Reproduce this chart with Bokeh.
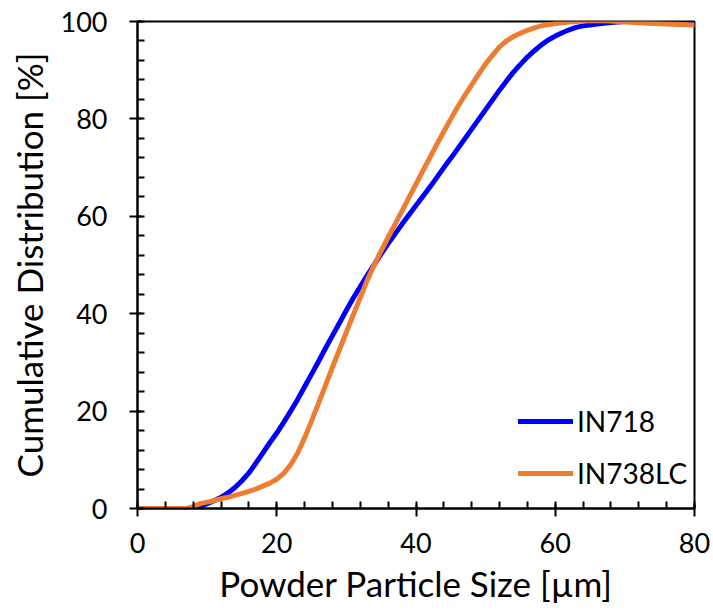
from bokeh.plotting import figure
from bokeh.models import Range1d, Legend, LegendItem, SingleIntervalTicker
from bokeh.embed import file_html
from bokeh.resources import INLINE

size_in718 = [0, 8, 9, 10, 11, 12, 13, 14, 15, 16, 17, 18, 19, 20, 21, 22, 23, 24, 25,
              26, 27, 28, 29, 30, 31, 32, 33, 34, 35, 36, 37, 38, 39, 40, 41, 42, 43,
              44, 45, 46, 47, 48, 49, 50, 51, 52, 53, 54, 55, 56, 57, 58, 59, 60, 61,
              62, 63, 64, 65, 66, 68, 70, 72, 75, 80]
cum_in718 = [0, 0, 0.4, 1.0, 1.6, 2.3, 3.2, 4.3, 5.7, 7.3, 9.3, 11.4, 13.5, 15.5, 17.7,
             20.0, 22.4, 25.0, 27.6, 30.2, 32.9, 35.5, 38.1, 40.7, 43.2, 45.6, 47.9,
             50.1, 52.3, 54.4, 56.4, 58.4, 60.3, 62.2, 64.1, 66.0, 68.0, 70.0, 71.9,
             73.9, 75.9, 77.9, 79.9, 81.9, 83.9, 85.9, 87.8, 89.6, 91.2, 92.7, 94.0,
             95.2, 96.2, 97.0, 97.7, 98.3, 98.8, 99.1, 99.3, 99.5, 99.8, 100.0, 100.1,
             100.2, 100.2]

size_in738 = [0, 7, 8, 9, 10, 11, 12, 13, 14, 15, 16, 17, 18, 19, 20, 21, 22, 23, 24,
              25, 26, 27, 28, 29, 30, 31, 32, 33, 34, 35, 36, 37, 38, 39, 40, 41, 42,
              43, 44, 45, 46, 47, 48, 49, 50, 51, 52, 53, 54, 55, 56, 57, 58, 60, 62,
              64, 66, 68, 70, 74, 80]
cum_in738 = [0, 0, 0.4, 1.0, 1.3, 1.6, 2.0, 2.3, 2.7, 3.1, 3.5, 4.0, 4.6, 5.2, 6.0, 7.2,
             9.0, 11.4, 14.5, 18.0, 21.6, 25.3, 29.0, 32.6, 36.2, 39.8, 43.3, 46.9,
             50.0, 52.9, 55.7, 58.4, 61.1, 63.9, 66.6, 69.4, 72.1, 74.8, 77.4, 80.0,
             82.5, 84.8, 87.0, 89.2, 91.3, 93.1, 94.8, 96.0, 96.9, 97.6, 98.2, 98.7,
             99.1, 99.6, 99.9, 100.1, 100.2, 100.1, 99.9, 99.6, 99.3]

series_names = ["IN718", "IN738LC"]
x_label = "Powder Particle Size [µm]"
y_label = "Cumulative Distribution [%]"

FONT = "Lato"

p = figure(width=713, height=613, output_backend="svg", toolbar_location=None,
           x_range=Range1d(0, 80), y_range=Range1d(0, 100),
           min_border_left=137, min_border_right=19, min_border_top=21,
           min_border_bottom=105)
p.background_fill_color = "white"
p.border_fill_color = "white"
p.outline_line_color = "black"
p.outline_line_width = 2
p.grid.visible = False

r1 = p.line(size_in718, cum_in718, line_color="#0000FF", line_width=5,
            line_join="round", line_cap="round")
r2 = p.line(size_in738, cum_in738, line_color="#ED7D31", line_width=5,
            line_join="round", line_cap="round")

p.xaxis.ticker = SingleIntervalTicker(interval=20, num_minor_ticks=5)
p.yaxis.ticker = SingleIntervalTicker(interval=20, num_minor_ticks=5)

for ax in (p.xaxis[0], p.yaxis[0]):
    ax.axis_line_color = "black"
    ax.axis_line_width = 2
    ax.major_tick_line_color = "black"
    ax.major_tick_line_width = 2
    ax.minor_tick_line_color = "black"
    ax.minor_tick_line_width = 2
    ax.major_tick_in = 4
    ax.major_tick_out = 8
    ax.minor_tick_in = 7
    ax.minor_tick_out = 0
    ax.major_label_text_font = FONT
    ax.major_label_text_font_size = "27px"
    ax.major_label_text_color = "black"
    ax.axis_label_text_font = FONT
    ax.axis_label_text_font_size = "35px"
    ax.axis_label_text_font_style = "normal"
    ax.axis_label_text_color = "black"

p.xaxis.axis_label = x_label
p.yaxis.axis_label = y_label
p.xaxis.major_label_standoff = 16
p.yaxis.major_label_standoff = 22
p.xaxis.axis_label_standoff = 6
p.yaxis.axis_label_standoff = 8

legend = Legend(items=[LegendItem(label=series_names[0], renderers=[r1]),
                       LegendItem(label=series_names[1], renderers=[r2])],
                location=(381, 18), orientation="vertical")
legend.background_fill_alpha = 0
legend.border_line_alpha = 0
legend.label_text_font = FONT
legend.label_text_font_size = "28px"
legend.label_text_color = "black"
legend.glyph_width = 55
legend.glyph_height = 30
legend.label_standoff = 4
legend.spacing = 18
legend.padding = 0
legend.margin = 0
p.add_layout(legend, "center")

open("out.html", "w").write(file_html(p, INLINE))
